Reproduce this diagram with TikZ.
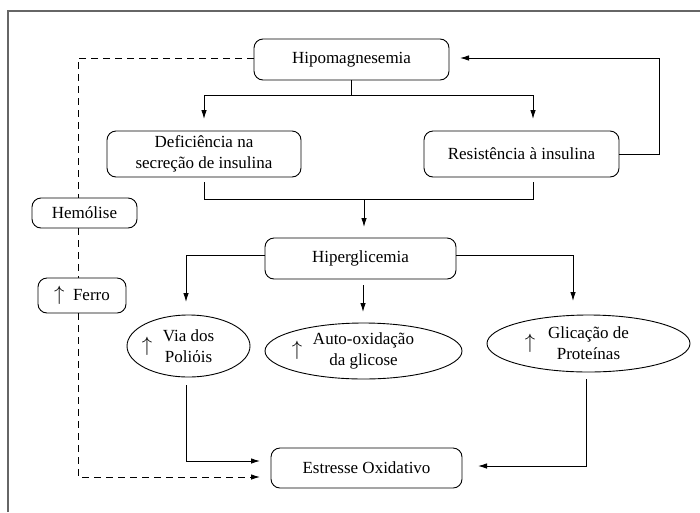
\documentclass[tikz,border=0pt]{standalone}
\usepackage{fontspec}
\setmainfont{Liberation Serif}
\usetikzlibrary{arrows.meta,shapes.geometric}
\begin{document}
\begin{tikzpicture}[x=1pt,y=-1pt,
  font=\fontsize{17}{21}\selectfont,
  box/.style={draw, rounded corners=9pt, line width=0.9pt, align=center, inner sep=0pt},
  oval/.style={draw, ellipse, line width=0.9pt, align=center, inner sep=0pt},
  link/.style={line width=0.9pt, -{Latex[length=9pt,width=5.5pt]}},
  plain/.style={line width=0.9pt},
  dashline/.style={line width=0.9pt, dash pattern=on 7pt off 5pt},
  uparr/.style={inner sep=0pt, font=\fontsize{21}{21}\selectfont}]
\useasboundingbox (0,0) rectangle (700,512);
\draw[black!60, line width=2pt] (8,512) -- (8,11) -- (700,11);

% nodes
\node[box, minimum width=195pt, minimum height=41pt] (hipo) at (351.5,59.5) {Hipomagnesemia};
\node[box, minimum width=194pt, minimum height=46pt] (def) at (204,154) {Deficiência na\\secreção de insulina};
\node[box, minimum width=195pt, minimum height=46pt] (res) at (521.5,154) {Resistência à insulina};
\node[box, minimum width=105pt, minimum height=30pt] (hem) at (84.5,213) {Hemólise};
\node[box, minimum width=88pt, minimum height=35pt] (fer) at (82,295.5) {{\fontsize{21}{21}\selectfont$\uparrow$}\ \ Ferro};
\node[box, minimum width=191pt, minimum height=41pt] (hiper) at (360.5,258.5) {Hiperglicemia};
\node[oval, minimum width=123pt, minimum height=62pt] (via) at (188.5,346) {Via dos\\Poliόis};
\node[oval, minimum width=197pt, minimum height=56pt] (auto) at (363.5,351) {Auto-oxidação\\da glicose};
\node[oval, minimum width=203pt, minimum height=57pt] (glic) at (588.5,343.5) {Glicação de\\Proteínas};
\node[uparr] (upvia) at (147,346) {$\uparrow$};
\node[uparr] (upauto) at (297,350) {$\uparrow$};
\node[uparr] (upglic) at (530,343) {$\uparrow$};
\node[box, minimum width=191pt, minimum height=40pt] (est) at (366.5,468) {Estresse Oxidativo};

% coordinates
\coordinate (hipoJ) at (351.5,95);
\coordinate (defIn) at (204,119);
\coordinate (resIn) at (533,119);
\coordinate (fbR) at (659,58);
\coordinate (hipoIn) at (460,58);
\coordinate (defOut) at (204,182);
\coordinate (resOut) at (533,182);
\coordinate (mergeL) at (204,199);
\coordinate (mergeR) at (533,199);
\coordinate (mergeM) at (364,199);
\coordinate (hiperIn) at (364,227);
\coordinate (hiperL) at (265,255);
\coordinate (hiperR) at (456,255);
\coordinate (viaIn) at (186,302);
\coordinate (glicIn) at (573,301);
\coordinate (autoTop) at (363,285);
\coordinate (autoIn) at (363,312);
\coordinate (viaOut) at (186,385);
\coordinate (estInA) at (260,461);
\coordinate (glicOut) at (586,379);
\coordinate (estInC) at (478,466);
\coordinate (hipoL) at (254,58);
\coordinate (dTop) at (78,58);
\coordinate (dBot) at (78,477);
\coordinate (estInB) at (260,477);

% connectors
\draw[plain] (hipo.south) -- (hipoJ);
\draw[link] (hipoJ) -| (defIn);
\draw[link] (hipoJ) -| (resIn);
\draw[link] (res.east) -| (fbR) -- (hipoIn);
\draw[plain] (defOut) -- (mergeL) -- (mergeR) -- (resOut);
\draw[link] (mergeM) -- (hiperIn);
\draw[link] (hiperL) -| (viaIn);
\draw[link] (hiperR) -| (glicIn);
\draw[link] (autoTop) -- (autoIn);
\draw[link] (viaOut) |- (estInA);
\draw[link] (glicOut) |- (estInC);

\draw[dashline] (hipoL) -- (dTop) -- (dTop |- hem.north);
\draw[dashline] (dTop |- hem.south) -- (dTop |- fer.north);
\draw[dashline, -{Latex[length=9pt,width=5.5pt]}] (dTop |- fer.south) -- (dBot) -- (estInB);
\end{tikzpicture}
\end{document}
